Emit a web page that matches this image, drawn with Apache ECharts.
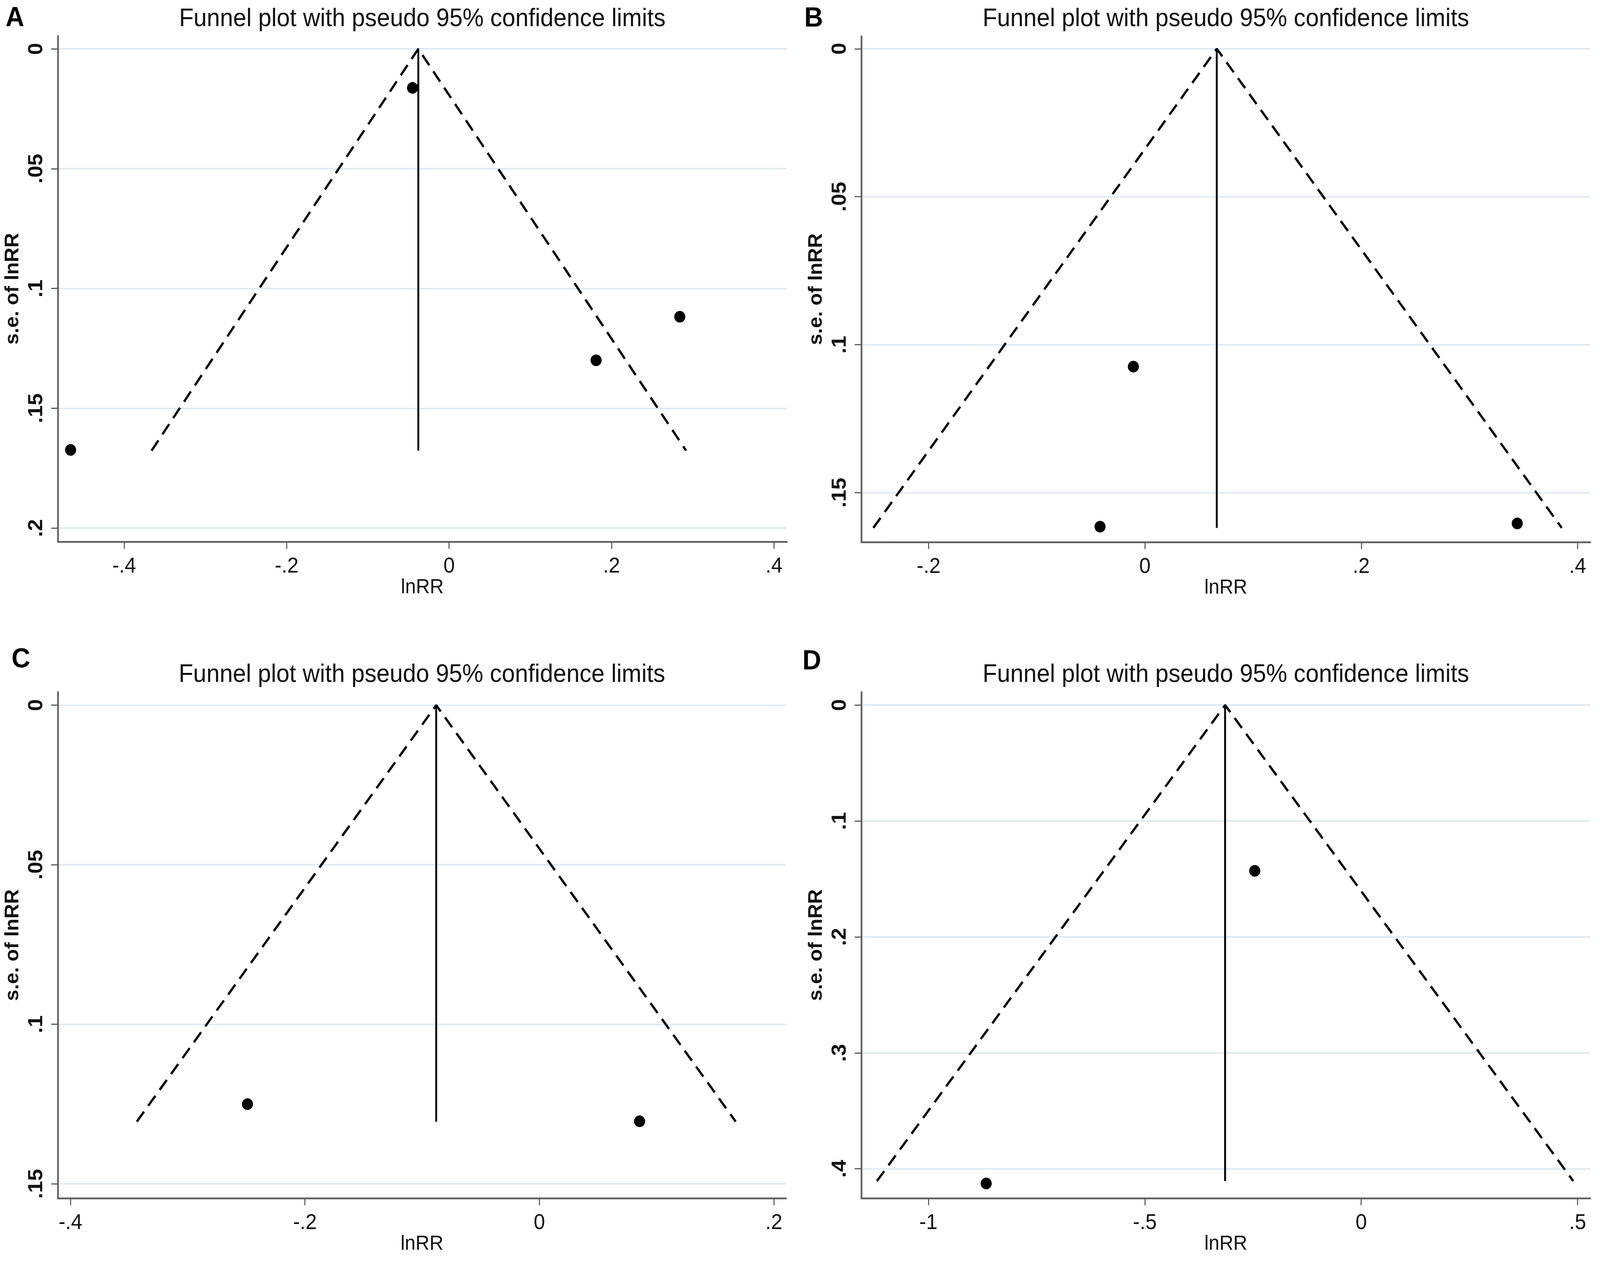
<!DOCTYPE html>
<html>
<head>
<meta charset="utf-8">
<script src="https://cdn.jsdelivr.net/npm/echarts@6/dist/echarts.min.js"></script>
<style>
html,body{margin:0;padding:0;background:#ffffff;overflow:hidden;}
#chart{width:4317px;height:3239px;transform-origin:0 0;}
</style>
</head>
<body>
<div id="chart"></div>
<script>
// ---------------- DATA ----------------
const panelLetters = ['A', 'B', 'C', 'D'];
const chartTitle = 'Funnel plot with pseudo 95% confidence limits';
const xAxisName = 'lnRR';
const yAxisName = 's.e. of lnRR';

// study points (lnRR, s.e. of lnRR)
const lnRR_A = [-0.466, -0.045, 0.181, 0.284];
const se_A   = [0.1674, 0.0163, 0.1300, 0.1118];
const lnRR_B = [-0.0107, -0.0415, 0.3442];
const se_B   = [0.1074, 0.1615, 0.1604];
const lnRR_C = [-0.249, 0.0855];
const se_C   = [0.1250, 0.1304];
const lnRR_D = [-0.8665, -0.246];
const se_D   = [0.4127, 0.1430];

// pooled estimate, largest s.e., pseudo 95% limits at the largest s.e. (A, B, C, D)
const pooledEstimate = [-0.0379, 0.0664, -0.0880, -0.3145];
const seMax          = [0.1677, 0.1619, 0.1305, 0.4106];
const limitLow       = [-0.3663, -0.2511, -0.3434, -1.119];
const limitHigh      = [0.2918, 0.3853, 0.1675, 0.490];

// tick values and labels
const xTicksA = [-0.4, -0.2, 0, 0.2, 0.4];  const xTickLabelsA = ['-.4', '-.2', '0', '.2', '.4'];
const xTicksB = [-0.2, 0, 0.2, 0.4];        const xTickLabelsB = ['-.2', '0', '.2', '.4'];
const xTicksC = [-0.4, -0.2, 0, 0.2];       const xTickLabelsC = ['-.4', '-.2', '0', '.2'];
const xTicksD = [-1, -0.5, 0, 0.5];         const xTickLabelsD = ['-1', '-.5', '0', '.5'];
const yTicksA = [0, 0.05, 0.1, 0.15, 0.2];  const yTickLabelsA = ['0', '.05', '.1', '.15', '.2'];
const yTicksB = [0, 0.05, 0.1, 0.15];       const yTickLabelsB = ['0', '.05', '.1', '.15'];
const yTicksC = [0, 0.05, 0.1, 0.15];       const yTickLabelsC = ['0', '.05', '.1', '.15'];
const yTicksD = [0, 0.1, 0.2, 0.3, 0.4];    const yTickLabelsD = ['0', '.1', '.2', '.3', '.4'];

// axis extents
const xRangeA = [-0.4817, 0.4158]; const yRangeA = [-0.0054, 0.2057];
const xRangeB = [-0.2622, 0.4118]; const yRangeB = [-0.0042, 0.1667];
const xRangeC = [-0.4108, 0.2105]; const yRangeC = [-0.0041, 0.1545];
const xRangeD = [-1.155, 0.5295];  const yRangeD = [-0.0112, 0.4254];

// ---------------- LAYOUT / STYLE ----------------
// The figure is laid out in the reference's 4317 x 3239 coordinate space and fitted to the window.
const W = 4317, H = 3239;
const el = document.getElementById('chart');
el.style.transform = 'scale(' + (window.innerWidth / W) + ',' + (window.innerHeight / H) + ')';

const FONT = '"Liberation Sans", Arial, Helvetica, sans-serif';
const gridBoxes = [
  {left: 156,  top: 92,   width: 1967, height: 1295},
  {left: 2324, top: 93,   width: 1967, height: 1295},
  {left: 156,  top: 1772, width: 1965, height: 1296},
  {left: 2324, top: 1772, width: 1967, height: 1296}
];
const letterPos = [{left: 15, top: 12}, {left: 2170, top: 13}, {left: 31, top: 1654}, {left: 2165, top: 1659}];
const titleTop = [13, 13, 1692, 1692];

const panels = [
  {x: lnRR_A, y: se_A, xt: xTicksA, xl: xTickLabelsA, yt: yTicksA, yl: yTickLabelsA, xr: xRangeA, yr: yRangeA},
  {x: lnRR_B, y: se_B, xt: xTicksB, xl: xTickLabelsB, yt: yTicksB, yl: yTickLabelsB, xr: xRangeB, yr: yRangeB},
  {x: lnRR_C, y: se_C, xt: xTicksC, xl: xTickLabelsC, yt: yTicksC, yl: yTickLabelsC, xr: xRangeC, yr: yRangeC},
  {x: lnRR_D, y: se_D, xt: xTicksD, xl: xTickLabelsD, yt: yTicksD, yl: yTickLabelsD, xr: xRangeD, yr: yRangeD}
];

const axisLineStyle = {color: '#5c5c5c', width: 4.5};
const grids = [], xAxes = [], yAxes = [], series = [], titles = [];

panels.forEach((p, i) => {
  grids.push(Object.assign({containLabel: false}, gridBoxes[i]));
  const xLabelMap = {}; p.xt.forEach((v, k) => { xLabelMap[v] = p.xl[k]; });
  const yLabelMap = {}; p.yt.forEach((v, k) => { yLabelMap[v] = p.yl[k]; });

  xAxes.push({
    type: 'value', gridIndex: i, min: p.xr[0], max: p.xr[1],
    name: xAxisName, nameLocation: 'middle', nameGap: 84,
    nameTextStyle: {fontFamily: FONT, fontSize: 52, color: '#111'},
    axisLine: {show: true, onZero: false, lineStyle: axisLineStyle},
    axisTick: {show: true, length: 18, customValues: p.xt, lineStyle: {color: '#5c5c5c', width: 3}},
    axisLabel: {show: true, customValues: p.xt, margin: 32, fontFamily: FONT, fontSize: 55, color: '#111',
      formatter: v => (xLabelMap[v] !== undefined ? xLabelMap[v] : String(v))},
    splitLine: {show: false}
  });

  yAxes.push({
    type: 'value', gridIndex: i, inverse: true, min: p.yr[0], max: p.yr[1],
    name: yAxisName, nameLocation: 'middle', nameGap: 98, nameRotate: 90,
    nameTextStyle: {fontFamily: FONT, fontSize: 52, fontWeight: 'bold', color: '#111'},
    axisLine: {show: true, onZero: false, lineStyle: axisLineStyle},
    axisTick: {show: true, length: 18, customValues: p.yt, lineStyle: {color: '#5c5c5c', width: 3}},
    axisLabel: {show: true, customValues: p.yt, rotate: 90, margin: 34, fontFamily: FONT, fontSize: 55,
      fontWeight: 'bold', color: '#111',
      formatter: v => (yLabelMap[v] !== undefined ? yLabelMap[v] : String(v))},
    splitLine: {show: true, lineStyle: {color: '#e1eaef', width: 4}}
  });

  // pseudo 95% confidence limits (dashed funnel)
  series.push({
    type: 'line', xAxisIndex: i, yAxisIndex: i, symbol: 'none', silent: true, z: 3,
    lineStyle: {color: '#000', width: 6, type: [32, 19]},
    data: [[limitLow[i], seMax[i]], [pooledEstimate[i], 0], [limitHigh[i], seMax[i]]]
  });
  // pooled estimate line
  series.push({
    type: 'line', xAxisIndex: i, yAxisIndex: i, symbol: 'none', silent: true, z: 3,
    lineStyle: {color: '#000', width: 5, type: 'solid'},
    data: [[pooledEstimate[i], 0], [pooledEstimate[i], seMax[i]]]
  });
  // studies
  series.push({
    type: 'scatter', xAxisIndex: i, yAxisIndex: i, symbol: 'circle', symbolSize: 30, z: 4,
    itemStyle: {color: '#000', opacity: 1},
    data: p.x.map((v, k) => [v, p.y[k]])
  });

  const g = gridBoxes[i];
  titles.push({
    text: chartTitle, left: g.left + g.width / 2, top: titleTop[i], textAlign: 'center', padding: 0,
    textStyle: {fontFamily: FONT, fontSize: 64, fontWeight: 'normal', color: '#111'}
  });
  titles.push({
    text: panelLetters[i], left: letterPos[i].left, top: letterPos[i].top, padding: 0,
    textStyle: {fontFamily: FONT, fontSize: 70, lineHeight: 60, fontWeight: 'bold', color: '#000'}
  });
});

const chart = echarts.init(el, null, {renderer: 'svg', width: W, height: H});
chart.setOption({
  backgroundColor: '#ffffff',
  animation: false,
  title: titles,
  grid: grids,
  xAxis: xAxes,
  yAxis: yAxes,
  series: series
});
</script>
</body>
</html>
